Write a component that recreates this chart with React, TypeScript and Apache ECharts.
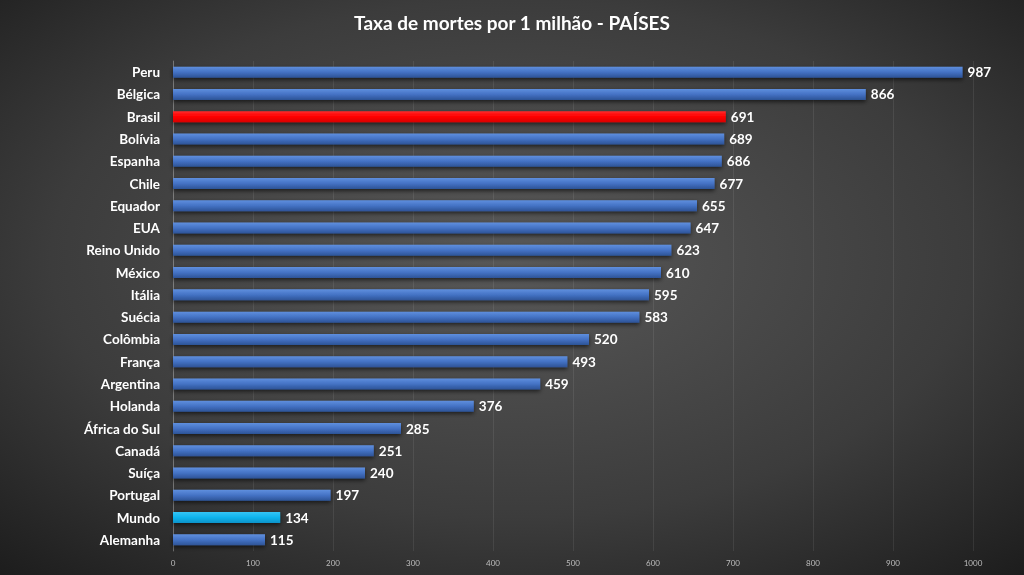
import React, { useEffect, useRef } from "react";
import * as echarts from "echarts";

const countries = [
  "Peru", "Bélgica", "Brasil", "Bolívia", "Espanha", "Chile", "Equador", "EUA",
  "Reino Unido", "México", "Itália", "Suécia", "Colômbia", "França", "Argentina",
  "Holanda", "África do Sul", "Canadá", "Suíça", "Portugal", "Mundo", "Alemanha",
];
const values = [987, 866, 691, 689, 686, 677, 655, 647, 623, 610, 595, 583, 520, 493, 459, 376, 285, 251, 240, 197, 134, 115];
const xTicks = [0, 100, 200, 300, 400, 500, 600, 700, 800, 900, 1000];
const title = "Taxa de mortes por 1 milhão - PAÍSES";

const blue = new echarts.graphic.LinearGradient(0, 0, 0, 1, [
  { offset: 0, color: "#5f8fde" },
  { offset: 0.5, color: "#4472c4" },
  { offset: 1, color: "#2d5396" },
]);
const red = new echarts.graphic.LinearGradient(0, 0, 0, 1, [
  { offset: 0, color: "#ff2a2a" },
  { offset: 0.5, color: "#ff0000" },
  { offset: 1, color: "#d90000" },
]);
const cyan = new echarts.graphic.LinearGradient(0, 0, 0, 1, [
  { offset: 0, color: "#33c4f5" },
  { offset: 0.5, color: "#0fb3ec" },
  { offset: 1, color: "#0a92c8" },
]);

export default function App() {
  const ref = useRef<HTMLDivElement>(null);
  useEffect(() => {
    if (!ref.current) return;
    document.body.style.margin = "0";
    const chart = echarts.init(ref.current, null, { renderer: "svg" });
    const cats = [...countries].reverse();
    const vals = [...values].reverse();
    chart.setOption({
      animation: false,
      backgroundColor: {
        type: "radial",
        x: 0.5,
        y: 0.45,
        r: 0.75,
        colorStops: [
          { offset: 0, color: "#585858" },
          { offset: 0.6, color: "#3c3c3c" },
          { offset: 1, color: "#1c1c1c" },
        ],
      },
      title: {
        text: title,
        left: "center",
        top: 8,
        textStyle: { color: "#ffffff", fontSize: 19, fontWeight: "bold", fontFamily: "Lato" },
      },
      grid: { left: 173, right: 51, top: 61, bottom: 24, containLabel: false },
      xAxis: {
        type: "value",
        min: 0,
        max: 1000,
        interval: 100,
        axisLine: { show: false },
        axisTick: { show: false },
        splitLine: { show: true, lineStyle: { color: "rgba(255,255,255,0.08)", width: 1 } },
        axisLabel: {
          color: "#bdbdbd",
          fontSize: 8,
          fontFamily: "Lato",
          margin: 8,
          formatter: (v: number) => (xTicks.includes(v) ? String(v) : ""),
        },
      },
      yAxis: {
        type: "category",
        data: cats,
        axisLine: { show: true, lineStyle: { color: "rgba(255,255,255,0.25)" } },
        axisTick: { show: false },
        axisLabel: {
          color: "#ffffff",
          fontSize: 13.5,
          fontWeight: "bold",
          fontFamily: "Lato",
          margin: 13,
        },
      },
      series: [
        {
          type: "bar",
          data: vals.map((v, i) => ({
            value: v,
            itemStyle: {
              color: cats[i] === "Brasil" ? red : cats[i] === "Mundo" ? cyan : blue,
              shadowColor: "rgba(0,0,0,0.6)",
              shadowBlur: 4,
              shadowOffsetY: 2,
            },
          })),
          barWidth: 11,
          label: {
            show: true,
            position: "right",
            distance: 5,
            color: "#ffffff",
            fontSize: 13.5,
            fontWeight: "bold",
            fontFamily: "Lato",
          },
        },
      ],
    });
    return () => chart.dispose();
  }, []);
  return <div ref={ref} style={{ position: "fixed", left: 0, top: 0, width: 1024, height: 575 }} />;
}
